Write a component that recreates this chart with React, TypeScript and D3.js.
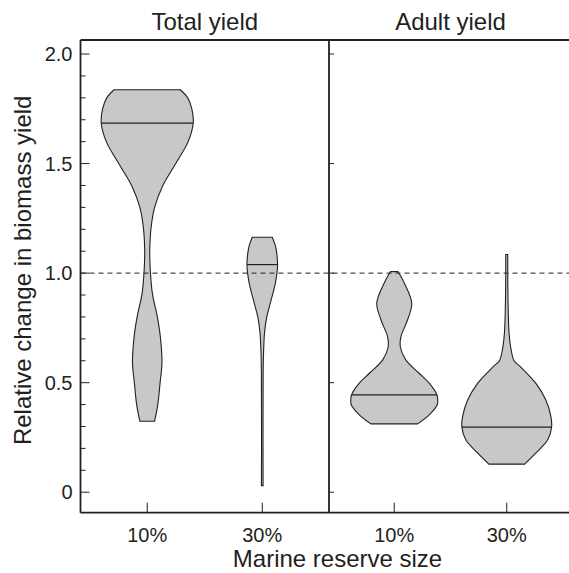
import * as d3 from "d3";

const panels = ["Total yield", "Adult yield"];
const sizes = ["10%", "30%"];

const yTicks = [0, 0.5, 1.0, 1.5, 2.0];
const yTickLabels = ["0", "0.5", "1.0", "1.5", "2.0"];
const yMinor = [0.1, 0.2, 0.3, 0.4, 0.6, 0.7, 0.8, 0.9, 1.1, 1.2, 1.3, 1.4, 1.6, 1.7, 1.8, 1.9];

// violin outlines: [value, relative density]
const totalTen: [number, number][] = [
  [0.324, 0.16], [0.4, 0.23], [0.5, 0.28], [0.59, 0.32], [0.7, 0.29], [0.8, 0.22],
  [0.91, 0.11], [1.02, 0.065], [1.1, 0.055], [1.2, 0.08], [1.3, 0.16], [1.4, 0.34],
  [1.5, 0.62], [1.6, 0.89], [1.685, 1.0], [1.75, 0.97], [1.8, 0.88], [1.837, 0.72],
];
const totalThirty: [number, number][] = [
  [0.03, 0.018], [0.2, 0.016], [0.4, 0.017], [0.55, 0.019], [0.65, 0.03], [0.73, 0.05],
  [0.8, 0.098], [0.88, 0.196], [0.96, 0.29], [1.039, 0.333], [1.106, 0.304], [1.13, 0.278],
  [1.164, 0.217],
];
const adultTen: [number, number][] = [
  [0.312, 0.51], [0.353, 0.76], [0.399, 0.935], [0.42, 0.945], [0.444, 0.93], [0.498, 0.76],
  [0.543, 0.54], [0.604, 0.25], [0.665, 0.13], [0.71, 0.145], [0.787, 0.29], [0.863, 0.38],
  [0.954, 0.22], [1.007, 0.08],
];
const adultThirty: [number, number][] = [
  [0.128, 0.39], [0.178, 0.63], [0.239, 0.89], [0.297, 0.975], [0.345, 0.96], [0.421, 0.85],
  [0.498, 0.63], [0.574, 0.29], [0.6, 0.16], [0.65, 0.095], [0.727, 0.05], [0.85, 0.03],
  [1.0, 0.022], [1.085, 0.022],
];
const medians = [1.685, 1.039, 0.444, 0.297];

const ink = "#231f20";
const fillGray = "#c7c8ca";
const font = "'Liberation Sans', Arial, Helvetica, sans-serif";

export default function App() {
  const width = 569;
  const height = 573;
  const top = 40;
  const bottom = 512.7;
  const left = 80.5;
  const mid = 329;
  const right = 572;

  const y = d3.scaleLinear().domain([-0.0935, 2.064]).range([bottom, top]);
  const w = d3.scaleLinear().domain([0, 1]).range([0, 46]);

  const xPanel = [
    d3.scalePoint<string>().domain(sizes).range([left, mid]).padding(0.58),
    d3.scalePoint<string>().domain(sizes).range([mid, right]).padding(0.58),
  ];

  const violins = [
    { panel: 0, size: sizes[0], profile: totalTen, median: medians[0] },
    { panel: 0, size: sizes[1], profile: totalThirty, median: medians[1] },
    { panel: 1, size: sizes[0], profile: adultTen, median: medians[2] },
    { panel: 1, size: sizes[1], profile: adultThirty, median: medians[3] },
  ];

  return (
    <svg
      width={width}
      height={height}
      style={{ position: "absolute", left: 0, top: 0, background: "#fff" }}
      fontFamily={font}
    >
      {/* violins */}
      {violins.map((v, i) => {
        const cx = xPanel[v.panel](v.size) as number;
        const area = d3
          .area<[number, number]>()
          .y((d) => y(d[0]))
          .x0((d) => cx - w(d[1]))
          .x1((d) => cx + w(d[1]))
          .curve(d3.curveCatmullRom.alpha(0.5));
        const medW = w(
          d3.scaleLinear().domain(v.profile.map((d) => d[0])).range(v.profile.map((d) => d[1]))(v.median)
        );
        return (
          <g key={i}>
            <path d={area(v.profile) as string} fill={fillGray} stroke={ink} strokeWidth={1.1} />
            <line x1={cx - medW} x2={cx + medW} y1={y(v.median)} y2={y(v.median)} stroke={ink} strokeWidth={1.2} />
          </g>
        );
      })}

      {/* reference line at 1 */}
      <line x1={left} x2={width} y1={y(1)} y2={y(1)} stroke={ink} strokeWidth={1} strokeDasharray="5,4" />

      {/* frame */}
      <line x1={left} x2={width} y1={top} y2={top} stroke={ink} strokeWidth={1.8} />
      <line x1={left} x2={width} y1={bottom} y2={bottom} stroke={ink} strokeWidth={1.8} />
      <line x1={left} x2={left} y1={top} y2={bottom} stroke={ink} strokeWidth={1.8} />
      <line x1={mid} x2={mid} y1={top} y2={bottom} stroke={ink} strokeWidth={1.8} />

      {/* y ticks, left panel */}
      {yMinor.map((t) => (
        <line key={"m" + t} x1={left} x2={left + 5} y1={y(t)} y2={y(t)} stroke={ink} strokeWidth={1} />
      ))}
      {yTicks.map((t, i) => (
        <g key={"t" + t}>
          <line x1={left} x2={left + 9} y1={y(t)} y2={y(t)} stroke={ink} strokeWidth={1} />
          <line x1={mid} x2={mid + 5} y1={y(t)} y2={y(t)} stroke={ink} strokeWidth={1} />
          <text x={left - 8} y={y(t)} dy="0.36em" textAnchor="end" fontSize={20} fill={ink}>
            {yTickLabels[i]}
          </text>
        </g>
      ))}

      {/* x ticks */}
      {xPanel.map((xs, p) =>
        sizes.map((s) => (
          <g key={p + s}>
            <line x1={xs(s)} x2={xs(s)} y1={bottom} y2={bottom - 10} stroke={ink} strokeWidth={1} />
            <text x={xs(s)} y={541.5} textAnchor="middle" fontSize={20} fill={ink}>
              {s}
            </text>
          </g>
        ))
      )}

      {/* panel titles */}
      {panels.map((t, p) => (
        <text
          key={t}
          x={p === 0 ? (left + mid) / 2 : (mid + right) / 2}
          y={30}
          textAnchor="middle"
          fontSize={24}
          fill={ink}
        >
          {t}
        </text>
      ))}

      {/* axis titles */}
      <text x={337.5} y={567} textAnchor="middle" fontSize={24} fill={ink}>
        Marine reserve size
      </text>
      <text
        transform={`translate(31, ${(top + bottom) / 2 - 6}) rotate(-90)`}
        textAnchor="middle"
        fontSize={24}
        fill={ink}
      >
        Relative change in biomass yield
      </text>
    </svg>
  );
}
